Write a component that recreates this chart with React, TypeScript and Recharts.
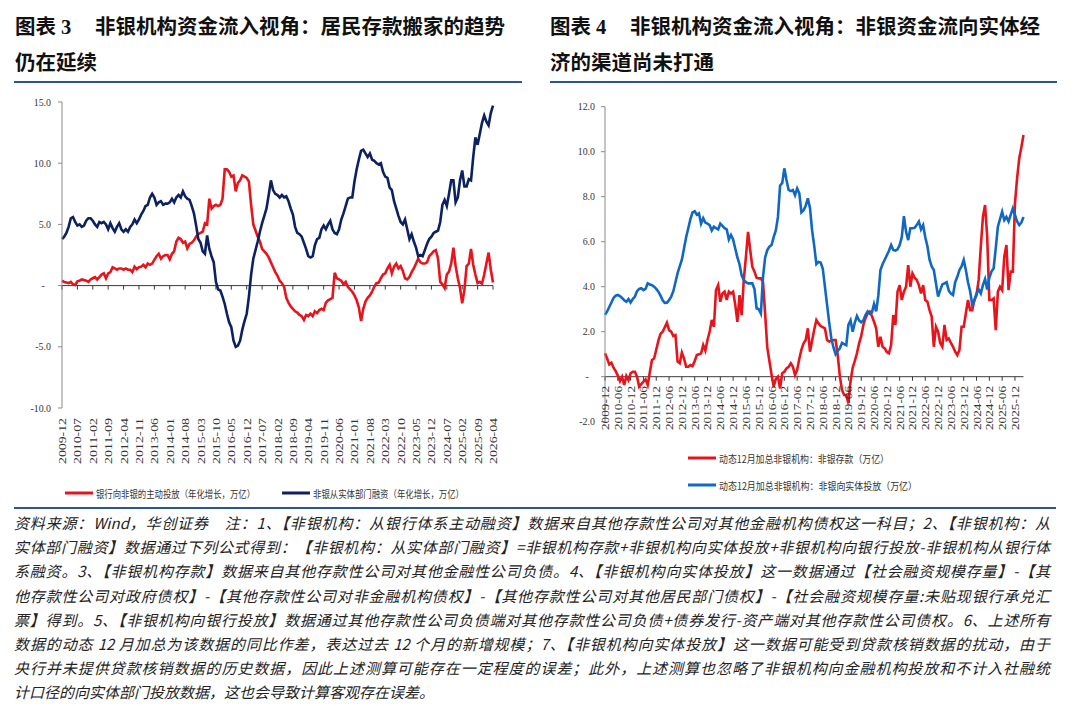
import { LineChart, Line, XAxis, YAxis, ReferenceLine } from "recharts";

const RED = "#E8141C";
const NAVY = "#0C2161";
const BLUE = "#1168C2";
const RULE = "#2B5597";
const AXIS = "#8a8a8a";
const ZERO = "#3a3a3a";
const SERIF = "'Liberation Serif', 'Times New Roman', serif";
const CJK = "'Noto Sans CJK SC', 'Noto Sans', sans-serif";

// monthly categories 2009-12 .. 2026-04
const months: string[] = [];
for (let i = 0; i < 197; i++) {
  const t = 2009 * 12 + 11 + i;
  months.push(`${Math.floor(t / 12)}-${String((t % 12) + 1).padStart(2, "0")}`);
}

// 图表3: 银行向非银的主动投放（年化增长，万亿）
const bankToNonBank = [
  0.4, 0.3, 0.25, 0.2, 0.3, 0.1, 0.05, 0.35, 0.4, 0.5, 0.45, 0.4,
  0.3, 0.5, 0.6, 0.7, 0.5, 0.7, 0.9, 1.0, 0.6, 1.0, 1.1, 1.5,
  1.4, 1.3, 1.4, 1.4, 1.3, 1.4, 1.3, 1.3, 1.1, 1.55, 1.35, 1.5,
  1.55, 1.7, 1.5, 1.8, 1.7, 1.8, 2.1, 2.4, 2.6, 2.2, 2.4, 2.5,
  2.5, 2.15, 2.6, 2.8, 3.6, 3.9, 3.8, 3.5, 3.6, 3.05, 3.4, 3.5,
  3.7, 4.0, 4.2, 4.3, 4.4, 5.1, 5.0, 7.1, 6.3, 6.5, 6.6, 6.5,
  6.6, 7.1, 9.5, 9.5, 9.3, 8.9, 9.0, 7.7, 8.4, 8.6, 9.0, 8.9,
  8.8, 8.5, 6.6, 5.0, 4.5, 4.0, 3.6, 3.0, 2.8, 2.6, 2.3, 1.9,
  1.5, 1.1, 0.8, 0.4, 0.2, -0.1, -1.0, -1.4, -1.7, -1.9, -2.1, -2.2,
  -2.4, -2.5, -2.8, -2.4, -2.5, -2.3, -2.5, -2.1, -2.25, -2.0, -1.9, -2.0,
  -1.4, -1.2, -1.1, -1.0, 1.05, 0.6, 0.5, 0.4, 0.1, 0.3, -0.1, -0.3,
  -0.5, -0.8, -1.2, -1.8, -2.9, -1.9, -1.3, -1.0, -0.8, -0.5, -0.1, 0.2,
  0.25, 0.6, 0.9, 1.0, 1.4, 1.7, 1.0, 1.55, 1.8, 1.4, 1.6, 1.2,
  0.6, 0.5, 0.7, 1.1, 1.4, 1.8, 2.2, 1.9, 1.8, 1.8, 1.9, 2.4,
  2.6, 2.8, 2.9, 2.2, 0.3, 0.1, -0.2, 0.9, 1.15, 1.8, 3.1, 1.6,
  0.6, -0.2, -1.45, -0.35, 1.6, 1.8, 3.0, 1.7, 0.9, 0.2, 0.3, 0.15,
  0.9, 1.8, 2.7, 1.3, 0.25,
];

// 图表3: 非银从实体部门融资（年化增长，万亿）
const nonBankFromReal = [
  3.8, 4.0, 4.3, 4.8, 5.5, 5.6, 5.2, 4.9, 5.0, 4.8, 4.9, 5.3,
  5.5, 5.5, 5.3, 5.0, 4.8, 5.2, 5.1, 5.2, 5.0, 4.6, 5.1, 4.7,
  4.4, 4.8, 5.1, 4.6, 4.4, 4.6, 4.4, 4.8, 5.0, 5.4, 5.1, 5.4,
  5.8, 6.1, 6.5, 6.6, 7.2, 7.5, 7.2, 6.6, 6.8, 6.9, 6.6, 6.7,
  6.7, 6.8, 7.1, 6.8, 7.2, 7.4, 7.2, 7.7, 7.3, 7.1, 7.0, 6.5,
  5.9, 4.9, 3.8, 3.5, 2.8, 2.6, 4.1, 3.0, 2.4, 1.9, 0.3, -0.3,
  -0.4, -0.9, -1.5, -2.3, -3.0, -3.4, -4.5, -5.0, -4.9, -4.5, -3.6, -2.9,
  -2.3, -0.9, 0.9, 2.2, 2.9, 3.6, 4.4, 5.1, 5.7, 6.3, 7.4, 8.6,
  7.8, 7.5, 7.4, 7.2, 7.4, 7.2, 7.3, 6.9, 6.3, 5.8, 4.8, 4.3,
  4.2, 4.0, 3.5, 3.0, 2.4, 2.3, 2.4, 3.3, 3.8, 3.9, 4.6, 4.9,
  4.6, 5.0, 5.3, 4.6, 4.3, 4.2, 4.6, 5.4, 5.9, 6.5, 7.1, 7.2,
  7.2, 8.5, 9.5, 10.3, 11.0, 11.1, 10.8, 10.5, 10.8, 10.3, 10.2, 10.0,
  9.9, 10.0, 9.3, 8.9, 8.8, 8.0, 7.8, 6.9, 6.3, 5.7, 5.2, 5.0,
  5.4, 4.6, 3.8, 4.2, 3.6, 3.1, 2.4, 2.5, 2.4, 2.9, 3.4, 3.8,
  4.0, 4.3, 4.4, 4.5, 5.2, 6.6, 7.0, 6.5, 7.5, 8.6, 8.6, 6.8,
  7.2, 8.6, 9.4, 8.1, 8.1, 8.7, 8.6, 10.5, 12.1, 11.5, 12.4, 13.3,
  13.9, 13.4, 13.1, 14.1, 14.7,
];

// 图表4: 动态12月加总非银机构：非银存款（万亿）
const nonBankDeposits = [
  1.04, 0.81, 0.55, 0.62, 0.4, 0.25, 0.05, -0.2, 0.0, -0.37, 0.03, -0.15,
  0.15, 0.22, 0.22, 0.0, -0.44, -0.33, -0.22, -0.12, -0.37, 0.2, 0.74, 0.81,
  1.2, 1.6, 1.9, 2.0, 2.2, 2.4, 2.07, 2.0, 1.81, 1.85, 0.67, 0.6,
  1.07, 0.81, 0.44, 0.44, 0.52, 0.47, 0.7, 0.96, 1.0, 1.04, 1.41, 1.16,
  1.63, 2.0, 2.52, 2.22, 3.85, 4.07, 3.33, 3.7, 3.78, 3.41, 3.78, 3.7,
  3.78, 3.2, 2.44, 3.63, 2.74, 4.3, 5.33, 6.44, 5.63, 4.89, 4.67, 4.4,
  4.37, 4.37, 4.2, 2.8, 1.3, 0.7, 0.1, -0.44, -0.1, 0.0, -0.52, 0.15,
  0.22, 0.37, 0.44, 0.6, 0.44, 0.07, 0.3, 0.8, 1.2, 1.48, 1.63, 2.15,
  1.11, 1.6, 2.1, 2.52, 2.37, 2.25, 2.2, 2.15, 1.63, 1.56, 1.6, 1.63,
  1.63, 0.96, 0.0, -0.59, -0.81, -0.81, -1.19, -0.2, 0.4, 0.7, 1.04, 1.48,
  1.8, 2.3, 2.6, 2.81, 2.89, 2.7, 2.44, 2.15, 1.33, 1.78, 1.33, 1.26,
  1.1, 1.04, 1.41, 2.74, 2.3, 3.78, 4.07, 3.41, 3.78, 4.0, 4.96, 4.0,
  4.59, 4.4, 4.3, 4.07, 3.7, 4.07, 3.41, 3.33, 2.96, 2.67, 1.33, 2.22,
  2.0, 1.5, 1.33, 2.3, 1.63, 1.7, 1.5, 1.33, 1.11, 0.96, 1.19, 2.22,
  2.22, 2.81, 3.41, 2.96, 2.96, 3.41, 3.63, 4.3, 5.78, 7.1, 7.63, 6.22,
  3.41, 3.41, 3.48, 2.07, 3.78, 4.0, 3.85, 5.33, 5.85, 3.85, 4.67, 4.67,
  7.7, 8.81, 9.7, 10.2, 10.74,
];

// 图表4: 动态12月加总非银机构：非银向实体投放（万亿）
const nonBankToReal = [
  2.75, 2.9, 3.1, 3.3, 3.5, 3.6, 3.63, 3.58, 3.5, 3.4, 3.33, 3.45,
  3.3, 3.45, 3.56, 3.8, 3.9, 3.93, 3.85, 3.9, 4.15, 4.1, 4.07, 4.0,
  3.9, 3.78, 3.6, 3.4, 3.28, 3.29, 3.4, 3.56, 3.8, 4.2, 4.6, 4.9,
  5.2, 5.7, 6.2, 6.6, 7.0, 7.3, 7.35, 7.2, 7.26, 6.8, 7.04, 6.85,
  6.8, 6.74, 6.5, 6.67, 6.6, 6.55, 6.8, 6.7, 6.6, 6.55, 6.1, 6.3,
  6.1, 5.7, 5.3, 5.0, 4.5, 4.3, 4.2, 4.15, 4.15, 4.15, 3.9, 3.04,
  3.0, 2.81, 4.44, 5.3, 5.63, 5.78, 5.85, 6.2, 6.5, 7.1, 8.5, 8.6,
  9.26, 8.74, 8.3, 8.25, 8.3, 8.07, 8.37, 8.15, 7.3, 7.4, 7.6, 7.93,
  7.5, 6.5, 5.8, 5.0, 5.1, 5.07, 4.8, 4.0, 3.2, 2.4, 1.7, 1.3,
  1.0, 1.15, 1.26, 1.5, 1.45, 1.4, 2.3, 2.5, 2.0, 2.4, 2.7, 2.5,
  2.42, 2.5, 2.74, 2.9, 2.8, 2.85, 3.23, 2.9, 3.6, 4.74, 5.0, 5.2,
  5.4, 5.6, 5.85, 5.63, 5.6, 5.66, 5.85, 6.2, 7.14, 6.44, 6.07, 6.6,
  6.6, 6.62, 6.74, 6.9, 6.55, 6.74, 6.2, 5.8, 5.2, 4.9, 4.74, 4.15,
  3.56, 3.85, 4.1, 4.15, 4.2, 3.82, 3.7, 3.63, 4.2, 4.44, 4.74, 4.9,
  5.19, 4.74, 4.2, 3.8, 3.19, 3.4, 3.7, 3.88, 3.7, 4.07, 4.34, 3.88,
  4.4, 4.67, 4.81, 5.7, 6.67, 7.0, 7.33, 6.96, 7.1, 6.9, 7.19, 7.48,
  7.19, 6.9, 6.74, 6.85, 7.1,
];

const leftTicks = [-10, -5, 0, 5, 10, 15];
const rightTicks = [-2, 0, 2, 4, 6, 8, 10, 12];

const leftName1 = "银行向非银的主动投放（年化增长，万亿）";
const leftName2 = "非银从实体部门融资（年化增长，万亿）";
const rightName1 = "动态12月加总非银机构：非银存款（万亿）";
const rightName2 = "动态12月加总非银机构：非银向实体投放（万亿）";

const leftRows = months.map((m, i) => ({
  month: m,
  bankToNonBank: bankToNonBank[i],
  nonBankFromReal: nonBankFromReal[i],
}));
const rightRows = months.map((m, i) => ({
  month: m,
  nonBankDeposits: nonBankDeposits[i],
  nonBankToReal: nonBankToReal[i],
}));

const footnote = [
  "资料来源：Wind，华创证券　注：1、【非银机构：从银行体系主动融资】数据来自其他存款性公司对其他金融机构债权这一科目；2、【非银机构：从",
  "实体部门融资】数据通过下列公式得到：【非银机构：从实体部门融资】=非银机构存款+非银机构向实体投放+非银机构向银行投放-非银机构从银行体",
  "系融资。3、【非银机构存款】数据来自其他存款性公司对其他金融性公司负债。4、【非银机构向实体投放】这一数据通过【社会融资规模存量】-【其",
  "他存款性公司对政府债权】-【其他存款性公司对非金融机构债权】-【其他存款性公司对其他居民部门债权】-【社会融资规模存量:未贴现银行承兑汇",
  "票】得到。5、【非银机构向银行投放】数据通过其他存款性公司负债端对其他存款性公司负债+债券发行-资产端对其他存款性公司债权。6、上述所有",
  "数据的动态 12 月加总为该数据的同比作差，表达过去 12 个月的新增规模；7、【非银机构向实体投放】这一数据可能受到贷款核销数据的扰动，由于",
  "央行并未提供贷款核销数据的历史数据，因此上述测算可能存在一定程度的误差；此外，上述测算也忽略了非银机构向金融机构投放和不计入社融统",
  "计口径的向实体部门投放数据，这也会导致计算客观存在误差。",
];

function MonthTick(props: any) {
  const { x, payload, top, length } = props;
  return (
    <text
      transform={`translate(${x + 0.5},${top}) rotate(-90)`}
      textAnchor="end"
      dominantBaseline="central"
      fontSize={10}
      fontFamily={SERIF}
      fill="#333"
      textLength={length}
      lengthAdjust="spacingAndGlyphs"
    >
      {payload.value}
    </text>
  );
}

function ValueTick(props: any) {
  const { x, y, payload } = props;
  const v = payload.value as number;
  return (
    <g transform={`translate(${x},${y})`}>
      <text
        x={v === 0 ? -7 : 0}
        transform="scale(0.9,1)"
        textAnchor="end"
        dominantBaseline="central"
        fontSize={11}
        fontFamily={SERIF}
        fill="#333"
      >
        {v === 0 ? "-" : v.toFixed(1)}
      </text>
    </g>
  );
}

function zeroTicks(step: number, depth: number) {
  return months
    .filter((_, i) => i % step === 0)
    .map((m) => (
      <ReferenceLine
        key={m}
        segment={[
          { x: m, y: 0 },
          { x: m, y: -depth },
        ]}
        stroke={ZERO}
        strokeWidth={1}
      />
    ));
}

const legendItems = [
  { color: RED, label: leftName1, x: 65, y: 493, len: 159 },
  { color: NAVY, label: leftName2, x: 282, y: 493, len: 151 },
  { color: RED, label: rightName1, x: 688, y: 458, len: 170 },
  { color: BLUE, label: rightName2, x: 688, y: 485, len: 198 },
];

function Title({ left, tag, head, tail }: { left: number; tag: string; head: string; tail: string }) {
  const font = {
    position: "absolute" as const,
    fontFamily: `${SERIF.split(",")[0]}, ${CJK}`,
    fontWeight: 700,
    fontSize: 20.5,
    lineHeight: "36px",
    color: "#111",
    whiteSpace: "nowrap" as const,
  };
  return (
    <>
      <div style={{ ...font, left, top: 9 }}>{tag}</div>
      <div style={{ ...font, left: left + 80, top: 9 }}>{head}</div>
      <div style={{ ...font, left, top: 45 }}>{tail}</div>
    </>
  );
}

export default function App() {
  return (
    <div
      style={{
        position: "absolute",
        left: 0,
        top: 0,
        width: 1080,
        height: 706,
        background: "#fff",
        overflow: "hidden",
      }}
    >
      <Title left={15} tag="图表 3" head="非银机构资金流入视角：居民存款搬家的趋势" tail="仍在延续" />
      <Title left={550} tag="图表 4" head="非银机构资金流入视角：非银资金流向实体经" tail="济的渠道尚未打通" />
      <div style={{ position: "absolute", left: 14, top: 81, width: 508, height: 2, background: RULE }} />
      <div style={{ position: "absolute", left: 550, top: 81, width: 507, height: 2, background: RULE }} />

      <div style={{ position: "absolute", left: 0, top: 0 }}>
        <LineChart
          width={520}
          height={480}
          data={leftRows}
          margin={{ top: 102, right: 27, bottom: 12, left: 22 }}
        >
          <XAxis
            dataKey="month"
            interval={6}
            axisLine={false}
            tickLine={false}
            height={60}
            tick={<MonthTick top={418} length={46} />}
          />
          <YAxis
            domain={[-10, 15]}
            ticks={leftTicks}
            width={40}
            axisLine={{ stroke: AXIS }}
            tickLine={{ stroke: AXIS }}
            tickSize={4}
            tickMargin={7}
            tick={<ValueTick />}
          />
          <ReferenceLine y={0} stroke={ZERO} strokeWidth={1} />
          {zeroTicks(7, 0.33)}
          <Line
            dataKey="bankToNonBank"
            name={leftName1}
            stroke={RED}
            strokeWidth={2.6}
            dot={false}
            isAnimationActive={false}
          />
          <Line
            dataKey="nonBankFromReal"
            name={leftName2}
            stroke={NAVY}
            strokeWidth={2.6}
            dot={false}
            isAnimationActive={false}
          />
        </LineChart>
      </div>

      <div style={{ position: "absolute", left: 540, top: 0 }}>
        <LineChart
          width={520}
          height={480}
          data={rightRows}
          margin={{ top: 106.7, right: 36.5, bottom: 8.3, left: 25 }}
        >
          <XAxis
            dataKey="month"
            interval={5}
            axisLine={false}
            tickLine={false}
            height={50}
            tick={<MonthTick top={386} length={44} />}
          />
          <YAxis
            domain={[-2, 12]}
            ticks={rightTicks}
            width={40}
            axisLine={{ stroke: AXIS }}
            tickLine={{ stroke: AXIS }}
            tickSize={4}
            tickMargin={6}
            tick={<ValueTick />}
          />
          <ReferenceLine y={0} stroke={ZERO} strokeWidth={1} />
          {zeroTicks(6, 0.18)}
          <Line
            dataKey="nonBankDeposits"
            name={rightName1}
            stroke={RED}
            strokeWidth={2.6}
            dot={false}
            isAnimationActive={false}
          />
          <Line
            dataKey="nonBankToReal"
            name={rightName2}
            stroke={BLUE}
            strokeWidth={2.6}
            dot={false}
            isAnimationActive={false}
          />
        </LineChart>
      </div>

      <svg width={1080} height={706} style={{ position: "absolute", left: 0, top: 0, pointerEvents: "none" }}>
        {legendItems.map((it) => (
          <g key={it.label}>
            <line x1={it.x} x2={it.x + 28} y1={it.y} y2={it.y} stroke={it.color} strokeWidth={3} />
            <text
              x={it.x + 31}
              y={it.y}
              dominantBaseline="central"
              fontSize={10}
              fontFamily={CJK}
              fill="#333"
              textLength={it.len}
              lengthAdjust="spacingAndGlyphs"
            >
              {it.label}
            </text>
          </g>
        ))}
      </svg>

      <div style={{ position: "absolute", left: 14, top: 507, width: 1042, height: 2, background: RULE }} />
      <div
        style={{
          position: "absolute",
          left: 14,
          top: 511,
          width: 1036,
          fontFamily: CJK,
          fontStyle: "italic",
          fontSize: 15,
          lineHeight: "24.2px",
          color: "#222",
        }}
      >
        {footnote.map((line, i) => (
          <div
            key={i}
            style={{
              whiteSpace: "nowrap",
              textAlign: "justify",
              textAlignLast: i < footnote.length - 1 ? "justify" : "left",
              overflow: "visible",
            }}
          >
            {line}
          </div>
        ))}
      </div>
    </div>
  );
}
